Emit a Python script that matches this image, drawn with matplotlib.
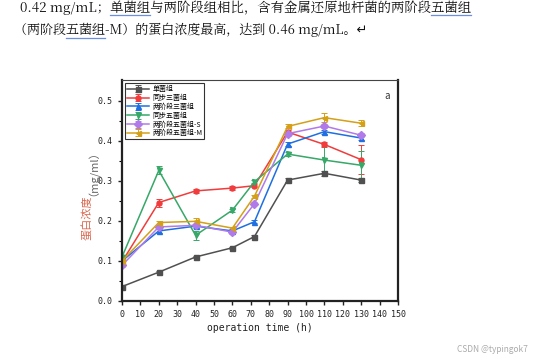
import matplotlib
matplotlib.use("Agg")
import matplotlib.pyplot as plt
from matplotlib.lines import Line2D

plt.rcParams['font.family'] = ['Noto Sans CJK SC', 'DejaVu Sans']

# sampling times (h)
times = [0, 20, 40, 60, 72, 90, 110, 130]

series_names = ['单菌组', '同步三菌组', '两阶段三菌组', '同步五菌组', '两阶段五菌组-S', '两阶段五菌组-M']
single = [0.036, 0.072, 0.110, 0.133, 0.161, 0.302, 0.319, 0.302]
sync3 = [0.098, 0.246, 0.275, 0.282, 0.288, 0.422, 0.391, 0.353]
two3 = [0.100, 0.175, 0.187, 0.175, 0.198, 0.392, 0.423, 0.407]
sync5 = [0.110, 0.326, 0.164, 0.227, 0.298, 0.367, 0.352, 0.339]
two5_s = [0.089, 0.185, 0.189, 0.172, 0.243, 0.418, 0.437, 0.414]
two5_m = [0.100, 0.196, 0.199, 0.182, 0.262, 0.436, 0.458, 0.444]

single_err = [0.004, 0.003, 0.003, 0.003, 0.003, 0.004, 0.006, 0.004]
sync3_err = [0.004, 0.010, 0.004, 0.004, 0.004, 0.005, 0.006, 0.037]
two3_err = [0.004, 0.005, 0.004, 0.004, 0.004, 0.005, 0.005, 0.005]
sync5_err = [0.006, 0.010, 0.012, 0.004, 0.004, 0.005, 0.036, 0.036]
two5_s_err = [0.004, 0.005, 0.004, 0.004, 0.004, 0.005, 0.005, 0.005]
two5_m_err = [0.004, 0.005, 0.009, 0.004, 0.004, 0.005, 0.012, 0.008]

colors = ['#505050', '#f03c3c', '#1f6fe0', '#36a868', '#b07ae8', '#d4a017']
markers = ['s', 'o', '^', 'v', 'D', '<']

line1 = '0.42 mg/mL；单菌组与两阶段组相比，含有金属还原地杆菌的两阶段五菌组'
line2 = '（两阶段五菌组-M）的蛋白浓度最高，达到 0.46 mg/mL。↵'

fig = plt.figure(figsize=(5.36, 3.62), dpi=100)
doc_font = ['Noto Serif CJK SC', 'Noto Sans CJK SC', 'DejaVu Sans']


def underline(x0, y_txt, y_line, text, start, end, size):
    # measure prefix widths to place a spell-check style underline
    fig.canvas.draw()
    r = fig.canvas.get_renderer()
    def width(s):
        if not s:
            return 0.0
        t = fig.text(x0, y_txt, s, fontsize=size, family=doc_font)
        w = t.get_window_extent(r).width
        t.remove()
        return w
    a = x0 * fig.bbox.width + width(text[:start])
    b = x0 * fig.bbox.width + width(text[:end])
    fig.add_artist(Line2D([a / fig.bbox.width, b / fig.bbox.width], [y_line] * 2,
                          color='#6b8fe0', lw=0.9))


# document text above the chart
fig.text(0.037, 0.999, line1, fontsize=9.6, color='#111111', va='top', family=doc_font)
fig.text(0.027, 1.0 - 30 / 362, line2, fontsize=9.4, color='#111111', va='center', family=doc_font)
underline(0.037, 0.999, 1 - 15 / 362, line1, 11, 14, 9.6)
underline(0.037, 0.999, 1 - 15 / 362, line1, len(line1) - 3, len(line1), 9.6)
underline(0.027, 1.0 - 30 / 362, 1 - 38 / 362, line2, 4, 7, 9.4)

ax = fig.add_axes([122 / 536, 1 - 301 / 362, 276 / 536, 221 / 362])

data = [single, sync3, two3, sync5, two5_s, two5_m]
errs = [single_err, sync3_err, two3_err, sync5_err, two5_s_err, two5_m_err]
for name, vals, err, c, m in zip(series_names, data, errs, colors, markers):
    ax.errorbar(times, vals, yerr=err, color=c, marker=m, markersize=3.6, lw=1.1,
                capsize=2, elinewidth=0.7, capthick=0.7, label=name)

ax.set_xlim(0, 150)
ax.set_ylim(0, 0.552)
ax.set_xticks(range(0, 151, 10))
ax.set_yticks([0.0, 0.1, 0.2, 0.3, 0.4, 0.5])
ax.set_yticks([0.05, 0.15, 0.25, 0.35, 0.45], minor=True)
ax.tick_params(axis='both', labelsize=6, width=1, length=3, colors='#222222')
ax.tick_params(axis='y', which='minor', length=2, width=0.8)
for lab in ax.get_xticklabels() + ax.get_yticklabels():
    lab.set_family('DejaVu Sans Mono')
ax.yaxis.set_major_formatter(matplotlib.ticker.FormatStrFormatter('%.1f'))

for side in ['left', 'bottom', 'right']:
    ax.spines[side].set_linewidth(1.6)
    ax.spines[side].set_color('#222222')
ax.spines['top'].set_linewidth(0.8)
ax.spines['top'].set_color('#444444')

ax.set_xlabel('operation time (h)', fontsize=7, family='DejaVu Sans Mono', color='#222222', labelpad=3)

# y label: Chinese part reddish, unit part grey
ylab1 = fig.text(88 / 536, 1 - 240 / 362, '蛋白浓度', rotation=90, fontsize=8,
                 color='#d9664e', ha='center', va='bottom')
fig.canvas.draw()
bb = ylab1.get_window_extent()
fig.text(88 / 536, bb.y1 / fig.bbox.height, '（mg/ml）', rotation=90, fontsize=8,
         color='#666666', ha='center', va='bottom')

ax.text(0.97, 0.95, 'a', transform=ax.transAxes, fontsize=7, color='#333333', ha='right', va='top')

leg = ax.legend(loc='upper left', fontsize=5, frameon=True, fancybox=False, edgecolor='black',
                handlelength=3.2, labelspacing=0.12, borderpad=0.25, handletextpad=0.4,
                borderaxespad=0.5)
leg.get_frame().set_linewidth(0.8)

fig.text(0.985, 1 - 349 / 362, 'CSDN @typingok7', fontsize=6, color='#aaaaaa', ha='right', va='center')

fig.savefig('out.png', dpi=100)
